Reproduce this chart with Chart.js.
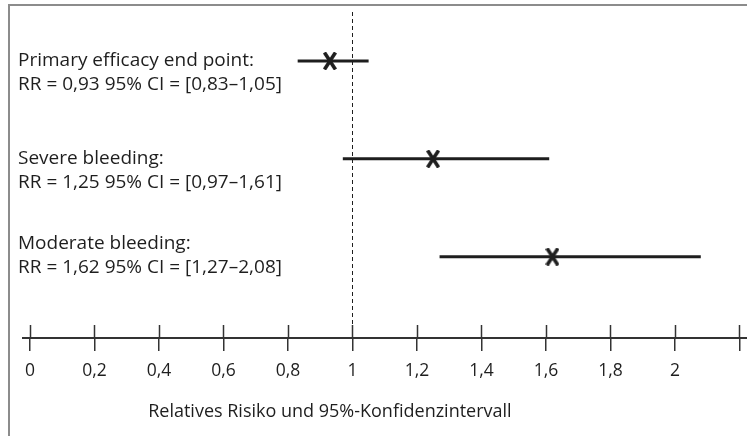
<!DOCTYPE html>
<html>
<head>
<meta charset="utf-8">
<script src="https://cdn.jsdelivr.net/npm/chart.js@4/dist/chart.umd.min.js"></script>
<style>
  html, body { margin: 0; padding: 0; background: #fff; }
  #wrap { position: relative; width: 747px; height: 436px; overflow: hidden; }
  #frame { position: absolute; left: 8px; top: 4px; right: -4px; bottom: -4px;
           border-left: 2px solid #8c8c8c; border-top: 2px solid #8c8c8c; pointer-events: none; }
  canvas { position: absolute; left: 0; top: 0; }
</style>
</head>
<body>
<div id="wrap">
  <canvas id="forest" width="747" height="436"></canvas>
  <div id="frame"></div>
</div>
<script>
// Endpoints with relative risk and 95% confidence interval
const endpoints = ['Primary efficacy end point:', 'Severe bleeding:', 'Moderate bleeding:'];
const relRisk   = [0.93, 1.25, 1.62];
const ciLower   = [0.83, 0.97, 1.27];
const ciUpper   = [1.05, 1.61, 2.08];

// x axis ticks
const tickValues = [0, 0.2, 0.4, 0.6, 0.8, 1, 1.2, 1.4, 1.6, 1.8, 2, 2.2];
const tickLabels = ['0', '0,2', '0,4', '0,6', '0,8', '1', '1,2', '1,4', '1,6', '1,8', '2', ''];
const nullEffect = 1;
const axisTitle = 'Relatives Risiko und 95%-Konfidenzintervall';

const INK = '#1e1e1e';
const FONT = "'Open Sans', 'DejaVu Sans', sans-serif";

const fmt = v => v.toFixed(2).replace('.', ',');

// bold "X" marker used for the point estimates
function makeMarker() {
  const c = document.createElement('canvas');
  c.width = 14; c.height = 18;
  const g = c.getContext('2d');
  g.strokeStyle = INK;
  g.lineWidth = 3.6;
  g.lineCap = 'butt';
  g.beginPath();
  g.moveTo(1.5, 0.5); g.lineTo(12.5, 17.5);
  g.moveTo(12.5, 0.5); g.lineTo(1.5, 17.5);
  g.stroke();
  return c;
}
const marker = makeMarker();

// one line dataset per confidence interval
const ciDatasets = endpoints.map((name, i) => ({
  type: 'line',
  label: name,
  data: [{ x: ciLower[i], y: i }, { x: ciUpper[i], y: i }],
  borderColor: INK,
  borderWidth: 3,
  pointRadius: 0,
  fill: false
}));

const pointDataset = {
  type: 'scatter',
  label: 'RR',
  data: relRisk.map((v, i) => ({ x: v, y: i })),
  pointStyle: marker,
  pointRadius: 9,
  borderColor: INK,
  backgroundColor: INK
};

// dashed line of no effect, upper halves of the axis ticks, captions and axis title
const decorations = {
  id: 'decorations',
  afterDatasetsDraw(chart) {
    const { ctx, chartArea, scales } = chart;
    const xs = scales.x, ys = scales.y;
    ctx.save();
    // reference line at RR = 1
    const x1 = Math.round(xs.getPixelForValue(nullEffect)) + 0.5;
    ctx.strokeStyle = INK;
    ctx.lineWidth = 1;
    ctx.setLineDash([4, 3]);
    ctx.beginPath();
    ctx.moveTo(x1, chartArea.top);
    ctx.lineTo(x1, chartArea.bottom);
    ctx.stroke();
    ctx.setLineDash([]);
    // tick marks cross the axis line
    ctx.strokeStyle = '#333';
    ctx.lineWidth = 1.5;
    tickValues.forEach(v => {
      const px = Math.round(xs.getPixelForValue(v)) + 0.5;
      ctx.beginPath();
      ctx.moveTo(px, chartArea.bottom - 13);
      ctx.lineTo(px, chartArea.bottom);
      ctx.stroke();
    });
    // captions
    ctx.fillStyle = INK;
    ctx.font = '19px ' + FONT;
    ctx.textAlign = 'left';
    ctx.textBaseline = 'middle';
    const shift = [0, 0, -13];
    endpoints.forEach((name, i) => {
      const py = ys.getPixelForValue(i) + shift[i];
      ctx.fillText(name, 18, py);
      ctx.fillText(`RR = ${fmt(relRisk[i])} 95% CI = [${fmt(ciLower[i])}–${fmt(ciUpper[i])}]`, 18, py + 24);
    });
    // axis title, set under the left part of the scale
    ctx.font = '18px ' + FONT;
    ctx.textAlign = 'center';
    ctx.fillText(axisTitle, xs.getPixelForValue(0.93), chartArea.bottom + 74);
    ctx.restore();
  }
};

new Chart(document.getElementById('forest'), {
  data: { datasets: [...ciDatasets, pointDataset] },
  options: {
    responsive: false,
    animation: false,
    devicePixelRatio: 1,
    layout: { autoPadding: false, padding: { left: 23, right: 0, top: 12, bottom: 0 } },
    plugins: { legend: { display: false }, tooltip: { enabled: false } },
    scales: {
      x: {
        type: 'linear',
        position: 'bottom',
        min: -0.0217,
        max: 2.2233,
        afterBuildTicks: s => { s.ticks = tickValues.map(v => ({ value: v })); },
        afterFit: s => { s.height = 98; s.paddingLeft = 0; s.paddingRight = 0; },
        grid: { drawOnChartArea: false, drawTicks: true, tickLength: 13, color: '#333', lineWidth: 1.5 },
        border: { display: true, color: '#333', width: 2 },
        ticks: {
          autoSkip: false,
          maxRotation: 0,
          padding: 10,
          color: INK,
          font: { family: FONT, size: 17.5 },
          callback: (v, i) => tickLabels[i]
        },
        title: { display: false }
      },
      y: {
        type: 'linear',
        display: false,
        reverse: true,
        min: -0.5,
        max: 2.83
      }
    }
  },
  plugins: [decorations]
});
</script>
</body>
</html>
